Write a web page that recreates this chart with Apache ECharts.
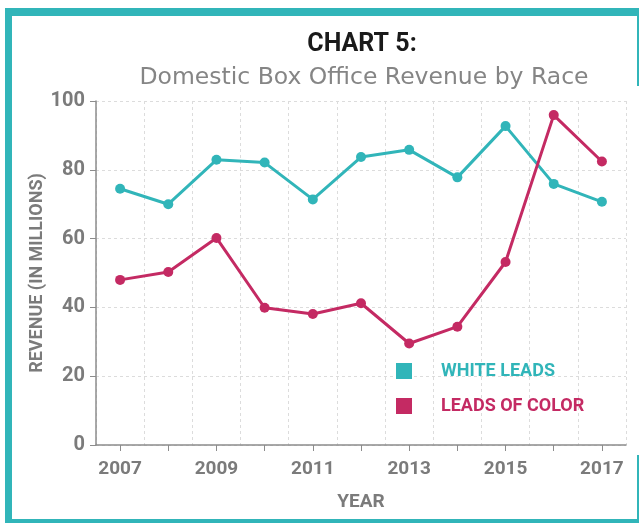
<!DOCTYPE html>
<html>
<head>
<meta charset="utf-8">
<script src="https://cdn.jsdelivr.net/npm/echarts@6/dist/echarts.min.js"></script>
<style>html,body{margin:0;padding:0;background:#fff;}#c{width:639px;height:523px;}</style>
</head>
<body>
<div id="c"></div>
<script>
const years = ['2007','2008','2009','2010','2011','2012','2013','2014','2015','2016','2017'];
const whiteLeads = [74.5, 70.0, 82.9, 82.1, 71.4, 83.7, 85.8, 77.8, 92.7, 75.9, 70.7];
const leadsOfColor = [48.0, 50.3, 60.2, 39.9, 38.1, 41.2, 29.5, 34.4, 53.2, 95.9, 82.4];
const yTicks = [0, 20, 40, 60, 80, 100];

const TEAL = '#31b5b9';
const PINK = '#c42a63';
const GREY = '#7b7b7b';
const NARROW = 'Roboto, "Liberation Sans Narrow", sans-serif';

const chart = echarts.init(document.getElementById('c'), null, {renderer: 'canvas'});
chart.setOption({
  backgroundColor: '#fff',
  animation: false,
  title: [
    {text: 'CHART 5:', left: 357, top: 27, textAlign: 'center',
     textStyle: {fontFamily: NARROW, fontWeight: 'bold', fontSize: 25, color: '#1a1a1a'}},
    {text: 'Domestic Box Office Revenue by Race', left: 359, top: 61, textAlign: 'center',
     textStyle: {fontFamily: '"DejaVu Sans", sans-serif', fontWeight: 'normal', fontSize: 23.5, color: '#858585'}}
  ],
  graphic: [
    {type: 'rect', shape: {x: 5, y: 8, width: 634, height: 8}, style: {fill: TEAL}},
    {type: 'rect', shape: {x: 5, y: 8, width: 7, height: 515}, style: {fill: TEAL}},
    {type: 'rect', shape: {x: 5, y: 519, width: 634, height: 4}, style: {fill: TEAL}},
    {type: 'rect', shape: {x: 637, y: 16, width: 2, height: 70}, style: {fill: TEAL}},
    {type: 'rect', shape: {x: 637, y: 455, width: 2, height: 65}, style: {fill: TEAL}}
  ],
  legend: {
    orient: 'vertical', left: 391, top: 357, itemWidth: 16, itemHeight: 16, itemGap: 17,
    icon: 'rect',
    data: [
      {name: 'WHITE LEADS', textStyle: {color: TEAL}},
      {name: 'LEADS OF COLOR', textStyle: {color: PINK}}
    ],
    textStyle: {fontFamily: NARROW, fontWeight: 'bold', fontSize: 18, padding: [0, 0, 0, 24]}
  },
  grid: {left: 96, right: 13, top: 101, bottom: 78, containLabel: false},
  xAxis: {
    type: 'category', data: years, boundaryGap: true,
    name: 'YEAR', nameLocation: 'middle', nameGap: 48, nameMoveOverlap: false,
    nameTextStyle: {fontFamily: NARROW, fontWeight: 'bold', fontSize: 19, color: GREY},
    axisLine: {lineStyle: {color: '#8c8c8c', width: 1.5}},
    axisTick: {show: true, alignWithLabel: true, interval: 0, length: 6, lineStyle: {color: '#8c8c8c'}},
    axisLabel: {interval: 1, margin: 15, fontFamily: NARROW, fontWeight: 'bold', fontSize: 19, color: GREY},
    splitLine: {show: true, interval: 0, lineStyle: {type: [3, 3], color: '#dcdcdc', width: 1}}
  },
  yAxis: {
    type: 'value', min: yTicks[0], max: yTicks[yTicks.length - 1], interval: 20,
    name: 'REVENUE (IN MILLIONS)', nameLocation: 'middle', nameGap: 50, nameRotate: 90, nameMoveOverlap: false,
    nameTextStyle: {fontFamily: NARROW, fontWeight: 'bold', fontSize: 18, color: GREY},
    axisLine: {show: true, lineStyle: {color: '#8c8c8c', width: 1.5}},
    axisTick: {show: true, length: 6, lineStyle: {color: '#8c8c8c'}},
    axisLabel: {margin: 11, fontFamily: NARROW, fontWeight: 'bold', fontSize: 20, color: GREY},
    splitLine: {show: true, lineStyle: {type: [3, 3], color: '#dcdcdc', width: 1}}
  },
  series: [
    {name: 'WHITE LEADS', type: 'line', data: whiteLeads, color: TEAL,
     symbol: 'circle', symbolSize: 10, lineStyle: {width: 3, color: TEAL}, itemStyle: {color: TEAL}},
    {name: 'LEADS OF COLOR', type: 'line', data: leadsOfColor, color: PINK,
     symbol: 'circle', symbolSize: 10, lineStyle: {width: 3, color: PINK}, itemStyle: {color: PINK}}
  ]
});
</script>
</body>
</html>
